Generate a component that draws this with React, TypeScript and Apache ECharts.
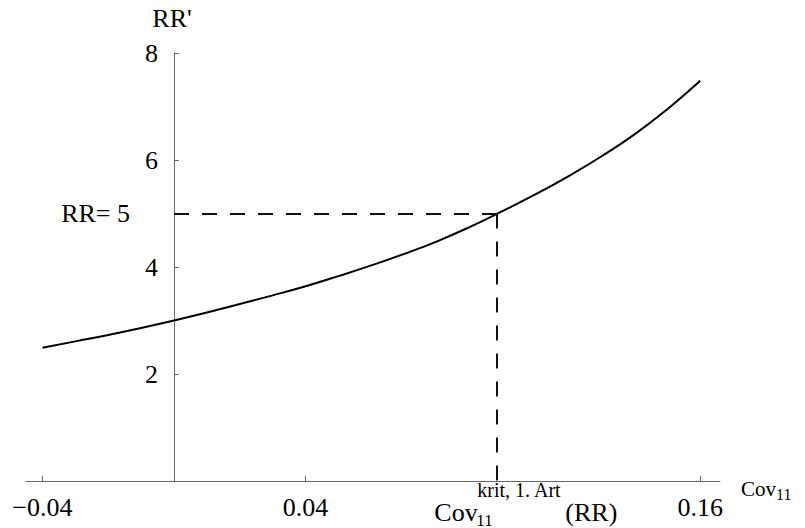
import React, { useEffect, useRef } from "react";
import * as echarts from "echarts";

const covValues = [-0.04, -0.03, -0.02, -0.01, 0, 0.01, 0.02, 0.03, 0.04, 0.05, 0.06, 0.07, 0.08, 0.09, 0.1, 0.11, 0.12, 0.13, 0.14, 0.15, 0.16];
const rrValues = [2.49, 2.61, 2.73, 2.86, 3.0, 3.15, 3.31, 3.47, 3.64, 3.83, 4.03, 4.245, 4.48, 4.75, 5.05, 5.36, 5.7, 6.07, 6.48, 6.95, 7.48];
const xTickValues = [-0.04, 0.04, 0.16];
const yTickValues = [2, 4, 6, 8];
const yLabelValues = [2, 4, 5, 6, 8];
const rrLevel = 5;
const covCrit = 0.098;
const xMin = -0.045;
const xMax = 0.166;
const yMin = 0;
const yMax = 8;

const FONT = "'Liberation Serif', 'Times New Roman', serif";
const GRID_LEFT = 26;

export default function App() {
  const ref = useRef<HTMLDivElement>(null);

  useEffect(() => {
    document.body.style.margin = "0";
    if (!ref.current) return;
    const chart = echarts.init(ref.current, null, { renderer: "svg" });
    const axisColor = "#666";
    chart.setOption({
      animation: false,
      backgroundColor: "#fff",
      grid: { left: GRID_LEFT, right: 85, top: 53, bottom: 47, containLabel: false, outerBoundsMode: "none" },
      xAxis: {
        type: "value",
        min: xMin,
        max: xMax,
        axisLine: { show: true, onZero: true, lineStyle: { color: axisColor, width: 1 } },
        axisTick: { show: true, inside: true, length: 5, customValues: xTickValues, lineStyle: { color: axisColor } },
        axisLabel: {
          show: true,
          customValues: xTickValues,
          margin: 13,
          color: "#000",
          fontFamily: FONT,
          fontSize: 26,
          formatter: (v: number) => (v < 0 ? "\u2212" + Math.abs(v).toFixed(2) : v.toFixed(2)),
        },
        splitLine: { show: false },
      },
      yAxis: {
        type: "value",
        min: yMin,
        max: yMax,
        axisLine: { show: true, onZero: true, lineStyle: { color: axisColor, width: 1 } },
        axisTick: { show: true, inside: true, length: 5, customValues: yTickValues, lineStyle: { color: axisColor } },
        axisLabel: { show: false },
        splitLine: { show: false },
      },
      series: [
        {
          type: "line",
          data: covValues.map((x, i) => [x, rrValues[i]]),
          smooth: true,
          showSymbol: false,
          symbol: "none",
          lineStyle: { color: "#000", width: 2 },
          silent: true,
          markLine: {
            silent: true,
            symbol: ["none", "none"],
            label: { show: false },
            lineStyle: { color: "#111", width: 2, type: [15, 13] },
            data: [
              [{ coord: [0, rrLevel] }, { coord: [covCrit, rrLevel] }],
              [{ coord: [covCrit, rrLevel] }, { coord: [covCrit, 0] }],
            ],
          },
        },
      ],
    });

    const toPx = (x: number, y: number) => chart.convertToPixel({ gridIndex: 0 }, [x, y]) as number[];
    const p8 = toPx(0, yMax);
    const pEnd = toPx(xMax, 0);
    const pc = toPx(covCrit, 0);
    const t = (text: string, x: number, y: number, size: number, align = "left") => ({
      type: "text",
      x,
      y,
      silent: true,
      style: { text, fill: "#000", font: `${size}px ${FONT}`, align, verticalAlign: "middle" },
    });
    const yLabels = yLabelValues.map((v) => {
      const p = toPx(0, v);
      if (v === rrLevel) return t("RR= " + rrLevel, p[0] - 44, p[1], 26, "right");
      return t(String(v), p[0] - 16, p[1], 26, "right");
    });
    chart.setOption({
      graphic: [
        ...yLabels,
        t("RR'", p8[0] - 2, p8[1] - 35, 26, "center"),
        t("Cov", pEnd[0] + 21, pEnd[1] + 8, 21),
        t("11", pEnd[0] + 56, pEnd[1] + 13, 16),
        t("Cov", pc[0] - 62, pc[1] + 31, 26),
        t("11", pc[0] - 20, pc[1] + 39, 17),
        t("krit, 1. Art", pc[0] - 19, pc[1] + 9, 20),
        t("(RR)", pc[0] + 69, pc[1] + 31, 26),
      ],
    });

    return () => chart.dispose();
  }, []);

  return <div ref={ref} style={{ width: 805, height: 528 }} />;
}
